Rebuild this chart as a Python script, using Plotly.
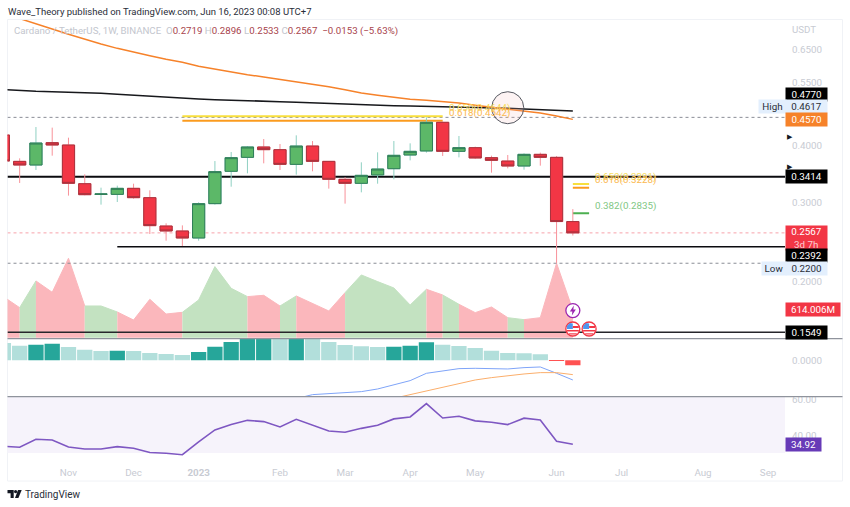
import math
import plotly.graph_objects as go

W, H = 850, 507

dates = ["2022-10-10","2022-10-17","2022-10-24","2022-10-31","2022-11-07","2022-11-14","2022-11-21","2022-11-28",
         "2022-12-05","2022-12-12","2022-12-19","2022-12-26","2023-01-02","2023-01-09","2023-01-16","2023-01-23",
         "2023-01-30","2023-02-06","2023-02-13","2023-02-20","2023-02-27","2023-03-06","2023-03-13","2023-03-20",
         "2023-03-27","2023-04-03","2023-04-10","2023-04-17","2023-04-24","2023-05-01","2023-05-08","2023-05-15",
         "2023-05-22","2023-05-29","2023-06-05","2023-06-12"]

opens  = [.4221,.3692,.3624,.4060,.4012,.3296,.3122,.3122,.3219,.3070,.2658,.2592,.2501,.2978,.3510,.3768,
          .3972,.3918,.3636,.3991,.3692,.3370,.3302,.3445,.3557,.3813,.3892,.4502,.3885,.3958,.3762,.3698,
          .3606,.3826,.3768,.2719]
highs  = [.4250,.3749,.4396,.4382,.4164,.3457,.3230,.3263,.3296,.3187,.2695,.2667,.2998,.3698,.3872,.3991,
          .4136,.4032,.4214,.4094,.3698,.3404,.3674,.3865,.4094,.4046,.4617,.4517,.4200,.3978,.3800,.3813,
          .3846,.3859,.3794,.2896]
lows   = [.3650,.3308,.3533,.3800,.3102,.3107,.2963,.3003,.3054,.2552,.2467,.2401,.2467,.2963,.3246,.3474,
          .3655,.3533,.3451,.3510,.3214,.2978,.3154,.3296,.3370,.3711,.3859,.3794,.3768,.3736,.3486,.3563,
          .3539,.3612,.2200,.2533]
closes = [.3698,.3624,.4053,.4012,.3302,.3117,.3128,.3219,.3070,.2663,.2592,.2501,.2978,.3504,.3762,.3972,
          .3918,.3636,.3991,.3692,.3370,.3302,.3439,.3551,.3807,.3885,.4502,.3885,.3958,.3756,.3711,.3606,
          .3826,.3768,.2719,.2567]
ma_orange = [.7832,.7636,.7420,.7234,.7040,.6864,.6703,.6556,.6447,.6317,.6200,.6106,.5984,.5893,.5814,.5735,
             .5668,.5601,.5544,.5470,.5396,.5314,.5225,.5164,.5103,.5060,.5034,.5009,.4966,.4908,.4858,.4809,
             .4760,.4720,.4649,.4570]
ma_black = [.5314,.5287,.5270,.5261,.5252,.5234,.5216,.5190,.5164,.5129,.5103,.5086,.5069,.5051,.5043,.5025,
            .5017,.5000,.4983,.4966,.4949,.4941,.4925,.4916,.4899,.4891,.4883,.4875,.4867,.4858,.4849,.4834,
            .4817,.4801,.4785,.4770]
volume = [910,666,1258,1006,1761,703,703,570,392,851,525,562,836,1576,1095,910,940,703,925,762,592,999,1391,1243,
          1103,725,1073,947,740,555,681,444,400,444,1650,614]
macd_hist = [.052,.044,.047,.050,.040,.032,.028,.029,.028,.022,.019,.016,.025,.041,.055,.068,.072,.070,.075,.070,
             .055,.046,.042,.040,.041,.044,.054,.047,.043,.037,.029,.022,.021,.018,-.002,-.015]
macd_line = [-.135,-.115,-.103,-.100,-.099,-.094,-.086,-.073,-.061,-.039,-.031,-.025,-.024,-.024,-.026,-.022,-.020,-.039,-.059]
macd_signal = [-.114,-.103,-.090,-.079,-.068,-.059,-.052,-.046,-.041,-.037,-.037,-.043]
rsi = [33.8,33.3,37.8,37.4,33.4,32.3,32.3,33.6,32.7,30.3,29.9,29.1,36.3,43.0,46.0,48.4,47.7,44.7,49.0,45.6,42.4,41.7,
       43.9,45.6,49.2,50.3,57.8,49.7,50.7,48.1,47.3,46.0,49.6,48.6,36.6,34.92]

x_range = ["2022-10-11 18:20", "2023-09-11 06:43"]
month_dates = ["2022-11-07","2022-12-05","2023-01-02","2023-02-06","2023-03-06","2023-04-03","2023-05-01","2023-06-05","2023-07-03","2023-08-07","2023-09-04"]
month_labels = ["Nov","Dec","<b>2023</b>","Feb","Mar","Apr","May","Jun","Jul","Aug","Sep"]
price_ticks = [0.2, 0.3, 0.4, 0.55, 0.65]
price_labels = ["0.2000","0.3000","0.4000","0.5500","0.6500"]

FONT = "Roboto"
RED, GREEN = "#f23645", "#5cb868"
GRAY = "#c8cbd3"
FS = 9.8

def ydom(top, bottom):
    return [1 - bottom / H, 1 - top / H]

def lg(v):
    return math.log10(v)

fig = go.Figure()

# volume bands, coloured by the candle on the right of each segment
band_colors = ["#c3e2c1" if closes[i] >= opens[i] else "#fbb7bc" for i in range(len(dates))]
start = 0
for i in range(1, len(dates) + 1):
    if i == len(dates) or band_colors[i] != band_colors[start + 1 if start + 1 < len(dates) else start]:
        if i - 1 > start:
            fig.add_trace(go.Scatter(x=dates[start:i], y=volume[start:i], mode="lines", fill="tozeroy",
                                     fillcolor=band_colors[i - 1], line=dict(color=band_colors[i - 1], width=1),
                                     xaxis="x", yaxis="y", hoverinfo="skip", showlegend=False))
        start = i - 1

def price_line(xs, v, color, width, dash="solid"):
    fig.add_trace(go.Scatter(x=xs, y=[v] * len(xs), mode="lines", line=dict(color=color, width=width, dash=dash),
                             xaxis="x", yaxis="y2", hoverinfo="skip", showlegend=False))

price_line(x_range, 0.4617, "#8a8d96", 1, "dot")
price_line(x_range, 0.2200, "#8a8d96", 1, "dot")
price_line(x_range, 0.2567, "#f7a3aa", 1, "dot")
price_line(x_range, 0.3414, "#0b0b0f", 2.2)
price_line(["2022-11-28", x_range[1]], 0.2392, "#0b0b0f", 1.6)
price_line(x_range, 0.1549, "#26262b", 1.6)
price_line(["2022-12-26", "2023-04-17"], 0.4641, "#f8df3c", 2)
price_line(["2022-12-26", "2023-04-17"], 0.4540, "#fb9b1e", 2)
price_line(["2023-06-12", "2023-06-19"], 0.3291, "#f8df3c", 2)
price_line(["2023-06-12", "2023-06-19"], 0.3228, "#fb9b1e", 2)
price_line(["2023-06-12", "2023-06-19"], 0.2835, "#4caf50", 2)

fig.add_trace(go.Scatter(x=dates, y=ma_black, mode="lines", line=dict(color="#17181c", width=1.5),
                         xaxis="x", yaxis="y2", hoverinfo="skip", showlegend=False))
fig.add_trace(go.Scatter(x=dates, y=ma_orange, mode="lines", line=dict(color="#f6822a", width=1.5),
                         xaxis="x", yaxis="y2", hoverinfo="skip", showlegend=False))

# candle wicks, then bodies
fig.add_trace(go.Candlestick(x=dates, open=opens, high=highs, low=lows, close=closes, xaxis="x", yaxis="y2",
                             increasing=dict(line=dict(color="#8fd0c2", width=1), fillcolor="#8fd0c2"),
                             decreasing=dict(line=dict(color="#f8929a", width=1), fillcolor="#f8929a"),
                             whiskerwidth=0, hoverinfo="skip", showlegend=False, zorder=1))
body_hi = [max(a, b) for a, b in zip(opens, closes)]
body_lo = [min(a, b) for a, b in zip(opens, closes)]
fig.add_trace(go.Candlestick(x=dates, open=opens, high=body_hi, low=body_lo, close=closes, xaxis="x", yaxis="y2",
                             increasing=dict(line=dict(color="#2f7d58", width=1), fillcolor=GREEN),
                             decreasing=dict(line=dict(color="#a8323d", width=1), fillcolor=RED),
                             whiskerwidth=0, hoverinfo="skip", showlegend=False, zorder=2))

# event markers and the hand-drawn circle
fig.add_trace(go.Scatter(x=["2023-06-12", "2023-06-12", "2023-06-19"], y=[0.173, 0.1575, 0.1575], mode="markers",
                         marker=dict(size=14, color="white", line=dict(color=["#9c27b0", "#f23645", "#f23645"], width=1.3)),
                         xaxis="x", yaxis="y2", hoverinfo="skip", showlegend=False, zorder=3))
fig.add_trace(go.Scatter(x=["2023-05-15"], y=[0.4849], mode="markers",
                         marker=dict(size=32, color="rgba(244,190,190,0.18)", line=dict(color="#555860", width=1)),
                         xaxis="x", yaxis="y2", hoverinfo="skip", showlegend=False, zorder=3))

# MACD
hist_colors = []
for i, v in enumerate(macd_hist):
    prev = macd_hist[i - 1] if i else v + 1
    if v < 0:
        hist_colors.append("#ff5252")
    else:
        hist_colors.append("#26a69a" if v > prev else "#b2dfdb")
fig.add_trace(go.Bar(x=dates, y=macd_hist, marker=dict(color=hist_colors, line=dict(width=0)),
                     xaxis="x", yaxis="y3", hoverinfo="skip", showlegend=False))
fig.add_trace(go.Scatter(x=dates[17:], y=macd_line, mode="lines", line=dict(color="#7fa4f8", width=1),
                         xaxis="x", yaxis="y3", hoverinfo="skip", showlegend=False))
fig.add_trace(go.Scatter(x=dates[24:], y=macd_signal, mode="lines", line=dict(color="#fbae6b", width=1),
                         xaxis="x", yaxis="y3", hoverinfo="skip", showlegend=False))

# RSI
fig.add_trace(go.Scatter(x=dates, y=rsi, mode="lines", line=dict(color="#7e57c2", width=1.6),
                         xaxis="x", yaxis="y4", hoverinfo="skip", showlegend=False))

def P(x, y):
    return f"{x / W:.5f} {1 - y / H:.5f}"

def paper_path(pts):
    return "M " + " L ".join(P(*p) for p in pts) + " Z"

shapes = [
    dict(type="rect", xref="paper", yref="paper", x0=7.5 / W, x1=842.5 / W, y0=1 - 481 / H, y1=1 - 19.5 / H,
         line=dict(color="#f0f2f6", width=1), layer="below"),
    dict(type="rect", xref="x domain", yref="y4", x0=0, x1=1, y0=30, y1=70, fillcolor="#f6f3fb",
         line=dict(width=0), layer="below"),
    dict(type="line", xref="paper", yref="paper", x0=7.5 / W, x1=842.5 / W, y0=1 - 338.6 / H, y1=1 - 338.6 / H,
         line=dict(color="#8f939c", width=1.3)),
    dict(type="line", xref="paper", yref="paper", x0=7.5 / W, x1=842.5 / W, y0=1 - 396.6 / H, y1=1 - 396.6 / H,
         line=dict(color="#8f939c", width=1.3)),
    # TradingView logo
    dict(type="path", xref="paper", yref="paper", path=paper_path([(7.5, 490), (13.7, 490), (13.7, 498), (10.6, 498), (10.6, 493.2), (7.5, 493.2)]),
         fillcolor="#131722", line=dict(width=0)),
    dict(type="circle", xref="paper", yref="paper", x0=14 / W, x1=17.2 / W, y0=1 - 493.2 / H, y1=1 - 490 / H,
         fillcolor="#131722", line=dict(width=0)),
    dict(type="path", xref="paper", yref="paper", path=paper_path([(18, 490), (21.7, 490), (18.4, 498), (15, 498)]),
         fillcolor="#131722", line=dict(width=0)),
    # lightning bolt
    dict(type="path", xref="x", yref="paper", xsizemode="pixel", ysizemode="pixel", xanchor="2023-06-12", yanchor=1 - 310.5 / H,
         path="M 1 5 L -3 -1 L -0.5 -1 L -1 -5 L 3 1 L 0.5 1 Z", fillcolor="#9c27b0", line=dict(width=0)),
]
for d in ["2023-06-12", "2023-06-19"]:
    for path, col in [("M -6 0 L 0 0 L 0 5.5 L -3 6 L -6 3 Z", "#4f96ee"),
                      ("M 0 1 L 6 1 L 6 3 L 0 3 Z", "#f23645"),
                      ("M -6 -2.5 L 6 -2.5 L 6 -1 L -6 -1 Z", "#f23645"),
                      ("M -4 -5.5 L 4 -5.5 L 4 -4.3 L -4 -4.3 Z", "#f23645")]:
        shapes.append(dict(type="path", xref="x", yref="paper", xsizemode="pixel", ysizemode="pixel",
                           xanchor=d, yanchor=1 - 329 / H, path=path, fillcolor=col, line=dict(width=0)))

ann = []

def text(x, y, s, color, size=FS, anchor="left"):
    ann.append(dict(xref="paper", yref="paper", x=x / W, y=1 - y / H, text=s, showarrow=False, xanchor=anchor,
                    yanchor="middle", font=dict(family=FONT, size=size, color=color), borderpad=0))

def tag(yref, yval, s, bg, fg, width=41, yshift=0, height=13, left=785, align="center"):
    ann.append(dict(xref="paper", yref=yref, x=left / W, y=yval, text=s, showarrow=False, xanchor="left",
                    yanchor="middle", yshift=yshift, width=width, height=height, align=align, valign="middle", bgcolor=bg,
                    borderpad=0, font=dict(family=FONT, size=FS, color=fg)))

def fib_label(date, price, s, color, yshift, xshift=4):
    ann.append(dict(xref="x", yref="y2", x=date, y=lg(price), text=s, showarrow=False, xanchor="left", yanchor="middle",
                    xshift=xshift, yshift=yshift, font=dict(family=FONT, size=FS, color=color)))

text(7, 11.5, "Wave_Theory published on TradingView.com, Jun 16, 2023 00:08 UTC+7", "#2a2e39", 9.5)
R = "#a8444c"
text(13, 31.5, f'<span style="color:#c3c6ce">Cardano / TetherUS, 1W, BINANCE</span>  '
     f'<span style="color:#c3c6ce">O</span><span style="color:{R}">0.2719</span> '
     f'<span style="color:#c3c6ce">H</span><span style="color:{R}">0.2896</span> '
     f'<span style="color:#c3c6ce">L</span><span style="color:{R}">0.2533</span> '
     f'<span style="color:#c3c6ce">C</span><span style="color:{R}">0.2567</span>  '
     f'<span style="color:{R}">−0.0153 (−5.63%)</span>', "#c3c6ce", 9.7)
text(804, 30, "USDT", GRAY, 9.7, "center")
text(24, 494.5, "TradingView", "#2a2e39", 10)

fib_label("2023-04-17", 0.4641, "0.650(0.4644)", "#f7dd5e", 8)
fib_label("2023-04-17", 0.4540, "0.618(0.4542)", "#fbb84f", 8)
fib_label("2023-06-19", 0.3291, "0.650(0.3291)", "#f7dd5e", 7)
fib_label("2023-06-19", 0.3228, "0.618(0.3228)", "#fbb84f", 8)
fib_label("2023-06-19", 0.2835, "0.382(0.2835)", "#81c784", 7)

tag("y2", lg(0.4770), "0.4770", "#000000", "#ffffff", yshift=16.7)
tag("y2", lg(0.4617), "0.4617", "#e3effd", "#2a2e39", yshift=10.7, left=785)
tag("y2", lg(0.4617), "High", "#e3effd", "#2a2e39", width=27, yshift=10.7, left=758)
tag("y2", lg(0.4570), "0.4570", "#f6822a", "#ffffff")
tag("y2", lg(0.3414), "0.3414", "#000000", "#ffffff")
tag("y2", lg(0.2567), "0.2567<br><span style='color:#fbcfd3'>3d 7h</span>", RED, "#ffffff", height=24, yshift=-5.5)
tag("y2", lg(0.2392), "0.2392", "#000000", "#ffffff", yshift=-8.9)
tag("y2", lg(0.2200), "0.2200", "#e3effd", "#2a2e39", yshift=-5)
tag("y2", lg(0.2200), "Low", "#e3effd", "#2a2e39", width=24, yshift=-5, left=761)
tag("y2", lg(0.1549), "0.1549", "#000000", "#ffffff")
tag("y", 614, "614.006M", RED, "#ffffff", width=54)
tag("y4", 34.92, "34.92", "#673ab7", "#ffffff", width=35)
text(785.5, 136.7, "▶", "#131722", 7)
text(785.5, 166.7, "▶", "#131722", 7)

Ymin = 0.2 * math.exp((282 - 338.5) / 196.8)
Ymax = 0.2 * math.exp((282 - 20) / 196.8)

axis_font = dict(family=FONT, size=FS, color=GRAY)
fig.update_layout(
    width=W, height=H, margin=dict(l=0, r=0, t=0, b=0, autoexpand=False), paper_bgcolor="white", plot_bgcolor="white",
    showlegend=False, bargap=0.06, boxgap=0.25, boxgroupgap=0, barmode="overlay", shapes=shapes, annotations=ann,
    font=dict(family=FONT),
    xaxis=dict(domain=[7.5 / W, 785 / W], range=x_range, type="date", anchor="y4", showgrid=False, zeroline=False,
               automargin=False, tickmode="array", tickvals=month_dates, ticktext=month_labels, tickfont=axis_font,
               ticks="outside", ticklen=1, tickcolor="rgba(0,0,0,0)", showline=False, rangeslider=dict(visible=False)),
    yaxis=dict(domain=ydom(20, 338.5), range=[-18, 7043], visible=False, fixedrange=True, automargin=False),
    yaxis2=dict(domain=ydom(20, 338.5), overlaying="y", type="log", range=[lg(Ymin), lg(Ymax)], side="right", anchor="x",
                automargin=False, showgrid=False, zeroline=False, tickmode="array", tickvals=price_ticks, ticktext=price_labels,
                tickfont=axis_font, ticks="outside", ticklen=4, tickcolor="rgba(0,0,0,0)"),
    yaxis3=dict(domain=ydom(339, 396.5), range=[-.1086, .0639], side="right", anchor="x", showgrid=False, automargin=False,
                zeroline=False, tickmode="array", tickvals=[0], ticktext=["0.0000"], tickfont=axis_font,
                ticks="outside", ticklen=4, tickcolor="rgba(0,0,0,0)"),
    yaxis4=dict(domain=ydom(397, 462), range=[25, 61.5], side="right", anchor="x", showgrid=False, zeroline=False,
                automargin=False, tickmode="array", tickvals=[40, 60], ticktext=["40.00", "60.00"], tickfont=axis_font,
                ticks="outside", ticklen=4, tickcolor="rgba(0,0,0,0)"),
)

fig.write_html("out.html", config=dict(displayModeBar=False), post_script="document.body.style.margin='0';")
